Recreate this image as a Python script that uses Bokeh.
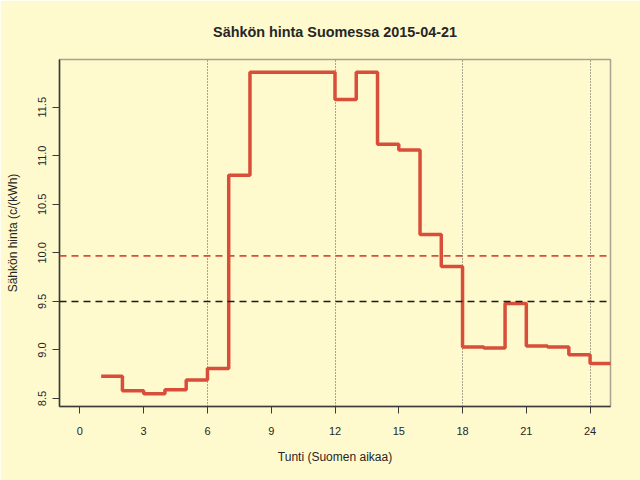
from bokeh.plotting import figure
from bokeh.models import FixedTicker, PrintfTickFormatter, Range1d, Span
from bokeh.embed import file_html
from bokeh.resources import INLINE

# Data: hourly electricity price (c/kWh), hour 1..24
hours = list(range(1, 25))
prices = [8.73, 8.58, 8.55, 8.59, 8.69, 8.81, 10.80, 11.86, 11.86, 11.86, 11.86, 11.58,
          11.86, 11.12, 11.06, 10.19, 9.86, 9.03, 9.02, 9.48, 9.04, 9.03, 8.95, 8.86]
reference_level = 9.5
x_ticks = [0, 3, 6, 9, 12, 15, 18, 21, 24]
y_ticks = [8.5, 9.0, 9.5, 10.0, 10.5, 11.0, 11.5]
day_marks = [6, 12, 18, 24]
title_text = "Sähkön hinta Suomessa 2015-04-21"
x_label = "Tunti (Suomen aikaa)"
y_label = "Sähkön hinta (c/(kWh)"

mean_price = sum(prices) / len(prices)

BG = "#fffacd"
RED = "#d84e3a"
TXT = "#262626"
FONT = "Liberation Sans"

p = figure(width=640, height=480, output_backend="svg", toolbar_location=None,
           x_range=Range1d(-0.96, 24.96), y_range=Range1d(8.418, 11.992),
           min_border_left=59, min_border_right=30, min_border_top=59, min_border_bottom=74,
           background_fill_color=BG, border_fill_color=BG,
           outline_line_color="#a8a290", outline_line_width=1.5)

p.title.text = title_text
p.title.align = "center"
p.title.text_font = FONT
p.title.text_font_size = "14.4px"
p.title.text_font_style = "bold"
p.title.text_color = TXT
p.title.standoff = 40

p.xgrid.ticker = FixedTicker(ticks=day_marks)
p.xgrid.grid_line_color = "#555555"
p.xgrid.grid_line_dash = "1 2"
p.xgrid.grid_line_width = 1
p.ygrid.grid_line_color = None

for ax in (p.xaxis[0], p.yaxis[0]):
    ax.axis_line_color = "#3a3a3a"
    ax.axis_line_width = 1.5
    ax.major_tick_line_color = "#3a3a3a"
    ax.major_tick_line_width = 1
    ax.major_tick_out = 7
    ax.major_tick_in = 0
    ax.minor_tick_line_color = None
    ax.major_label_text_font = FONT
    ax.major_label_text_font_size = "11px"
    ax.major_label_text_color = TXT
    ax.axis_label_text_font = FONT
    ax.axis_label_text_font_size = "12px"
    ax.axis_label_text_font_style = "normal"
    ax.axis_label_text_color = TXT

p.xaxis.ticker = FixedTicker(ticks=x_ticks)
p.xaxis.axis_label = x_label
p.xaxis.major_label_standoff = 13
p.xaxis.axis_label_standoff = 12

p.yaxis.ticker = FixedTicker(ticks=y_ticks)
p.yaxis.formatter = PrintfTickFormatter(format="%.1f")
p.yaxis.axis_label = y_label
p.yaxis.major_label_orientation = "vertical"
p.yaxis.major_label_standoff = 6
p.yaxis.axis_label_standoff = 16

p.add_layout(Span(location=mean_price, dimension="width", line_color=RED,
                  line_dash="7 5", line_width=1.6))
p.add_layout(Span(location=reference_level, dimension="width", line_color="#1a1a1a",
                  line_dash="7 5", line_width=1.5))

step_x = hours + [hours[-1] + 1]
step_y = prices + [prices[-1]]
p.step(step_x, step_y, mode="after", line_color=RED, line_width=3.5)

open("out.html", "w").write(file_html(p, INLINE))
